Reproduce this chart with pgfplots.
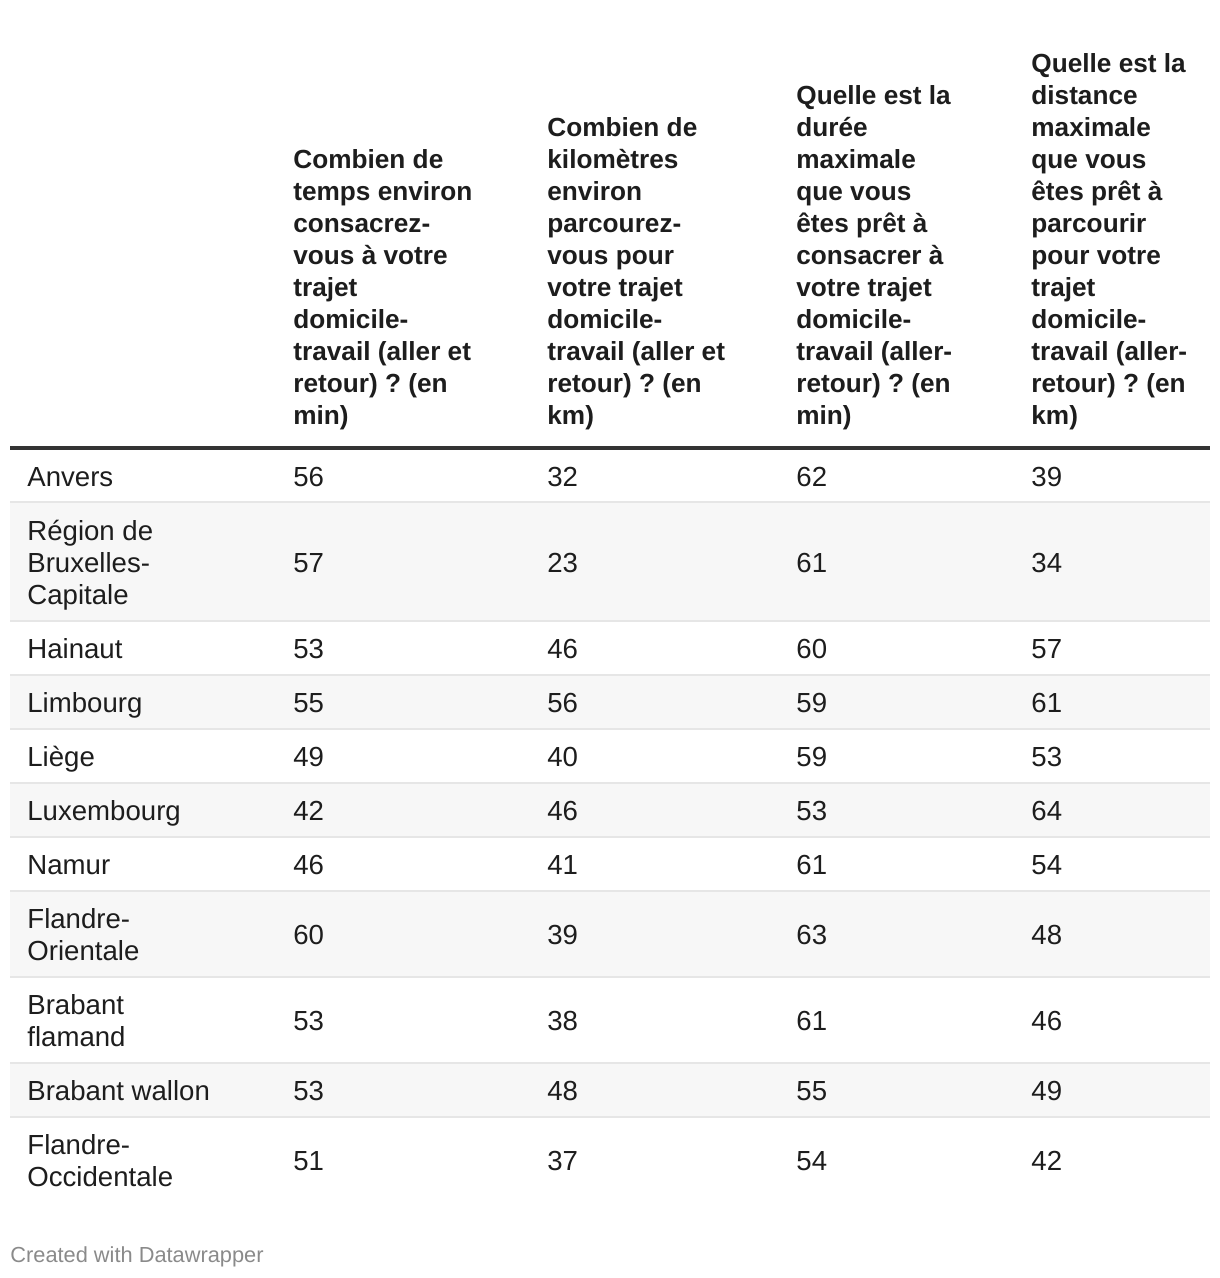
\documentclass[border=0pt]{standalone}
\usepackage{pgfplots}
\pgfplotsset{compat=1.18}
\usepackage{pgfplotstable}
\usepackage{fontspec}
\setmainfont{Liberation Sans}
\frenchspacing
\definecolor{rowgray}{HTML}{F7F7F7}
\definecolor{sepgray}{HTML}{E6E6E6}
\definecolor{rulecol}{HTML}{333333}
\definecolor{txt}{HTML}{1D1D1D}
\definecolor{foot}{HTML}{8A8A8A}

\pgfplotstableread[col sep=semicolon]{
x;y;t
293;168;Combien de
293;200;temps environ
293;232;consacrez-
293;264;vous à votre
293;296;trajet
293;328;domicile-
293;360;travail (aller et
293;392;retour) ? (en
293;424;min)
547;136;Combien de
547;168;kilomètres
547;200;environ
547;232;parcourez-
547;264;vous pour
547;296;votre trajet
547;328;domicile-
547;360;travail (aller et
547;392;retour) ? (en
547;424;km)
796;104;Quelle est la
796;136;durée
796;168;maximale
796;200;que vous
796;232;êtes prêt à
796;264;consacrer à
796;296;votre trajet
796;328;domicile-
796;360;travail (aller-
796;392;retour) ? (en
796;424;min)
1031;72;Quelle est la
1031;104;distance
1031;136;maximale
1031;168;que vous
1031;200;êtes prêt à
1031;232;parcourir
1031;264;pour votre
1031;296;trajet
1031;328;domicile-
1031;360;travail (aller-
1031;392;retour) ? (en
1031;424;km)
}\headtab

\pgfplotstableread[col sep=semicolon]{
x;y;t
27;486;Anvers
27;540;Région de
27;572;Bruxelles-
27;604;Capitale
27;658;Hainaut
27;712;Limbourg
27;766;Liège
27;820;Luxembourg
27;874;Namur
27;928;Flandre-
27;960;Orientale
27;1014;Brabant
27;1046;flamand
27;1100;Brabant wallon
27;1154;Flandre-
27;1186;Occidentale
}\labtab

\pgfplotstableread[col sep=semicolon]{
y;c1;c2;c3;c4
486;56;32;62;39
572;57;23;61;34
658;53;46;60;57
712;55;56;59;61
766;49;40;59;53
820;42;46;53;64
874;46;41;61;54
944;60;39;63;48
1030;53;38;61;46
1100;53;48;55;49
1170;51;37;54;42
}\valtab

\begin{document}
\begin{tikzpicture}
\begin{axis}[
  width=610bp, height=639bp, scale only axis,
  xmin=0, xmax=1220, ymin=0, ymax=1278, y dir=reverse,
  hide axis, clip=false,
  txtplot/.style={only marks, mark=none, nodes near coords,
     point meta=explicit symbolic,
     nodes near coords style={anchor=base west, inner sep=0pt, text=txt, font=\fontsize{13.8bp}{16bp}\selectfont}},
]
% full page extent
\path (axis cs:0,0) rectangle (axis cs:1220,1278);
% row shading
\foreach \a/\b in {502/621, 675/729, 783/837, 891/977, 1063/1117}{
  \edef\tmp{\noexpand\fill[rowgray] (axis cs:10,\a) rectangle (axis cs:1210,\b);}\tmp
}
% separators
\foreach \s in {502,621,675,729,783,837,891,977,1063,1117}{
  \edef\tmp{\noexpand\draw[sepgray, line width=1bp] (axis cs:10,\s) -- (axis cs:1210,\s);}\tmp
}
\draw[rulecol, line width=2bp] (axis cs:10,448) -- (axis cs:1210,448);

\addplot[txtplot, nodes near coords style={font=\fontsize{13.1bp}{16bp}\selectfont\bfseries}] table[x=x, y=y, meta=t] {\headtab};
\addplot[txtplot] table[x=x, y=y, meta=t] {\labtab};
\addplot[txtplot] table[x expr=293, y=y, meta=c1] {\valtab};
\addplot[txtplot] table[x expr=547, y=y, meta=c2] {\valtab};
\addplot[txtplot] table[x expr=796, y=y, meta=c3] {\valtab};
\addplot[txtplot] table[x expr=1031, y=y, meta=c4] {\valtab};

\node[anchor=base west, inner sep=0pt, text=foot, font=\fontsize{10.9bp}{12bp}\selectfont] at (axis cs:10,1262) {Created with Datawrapper};
\end{axis}
\end{tikzpicture}
\end{document}
